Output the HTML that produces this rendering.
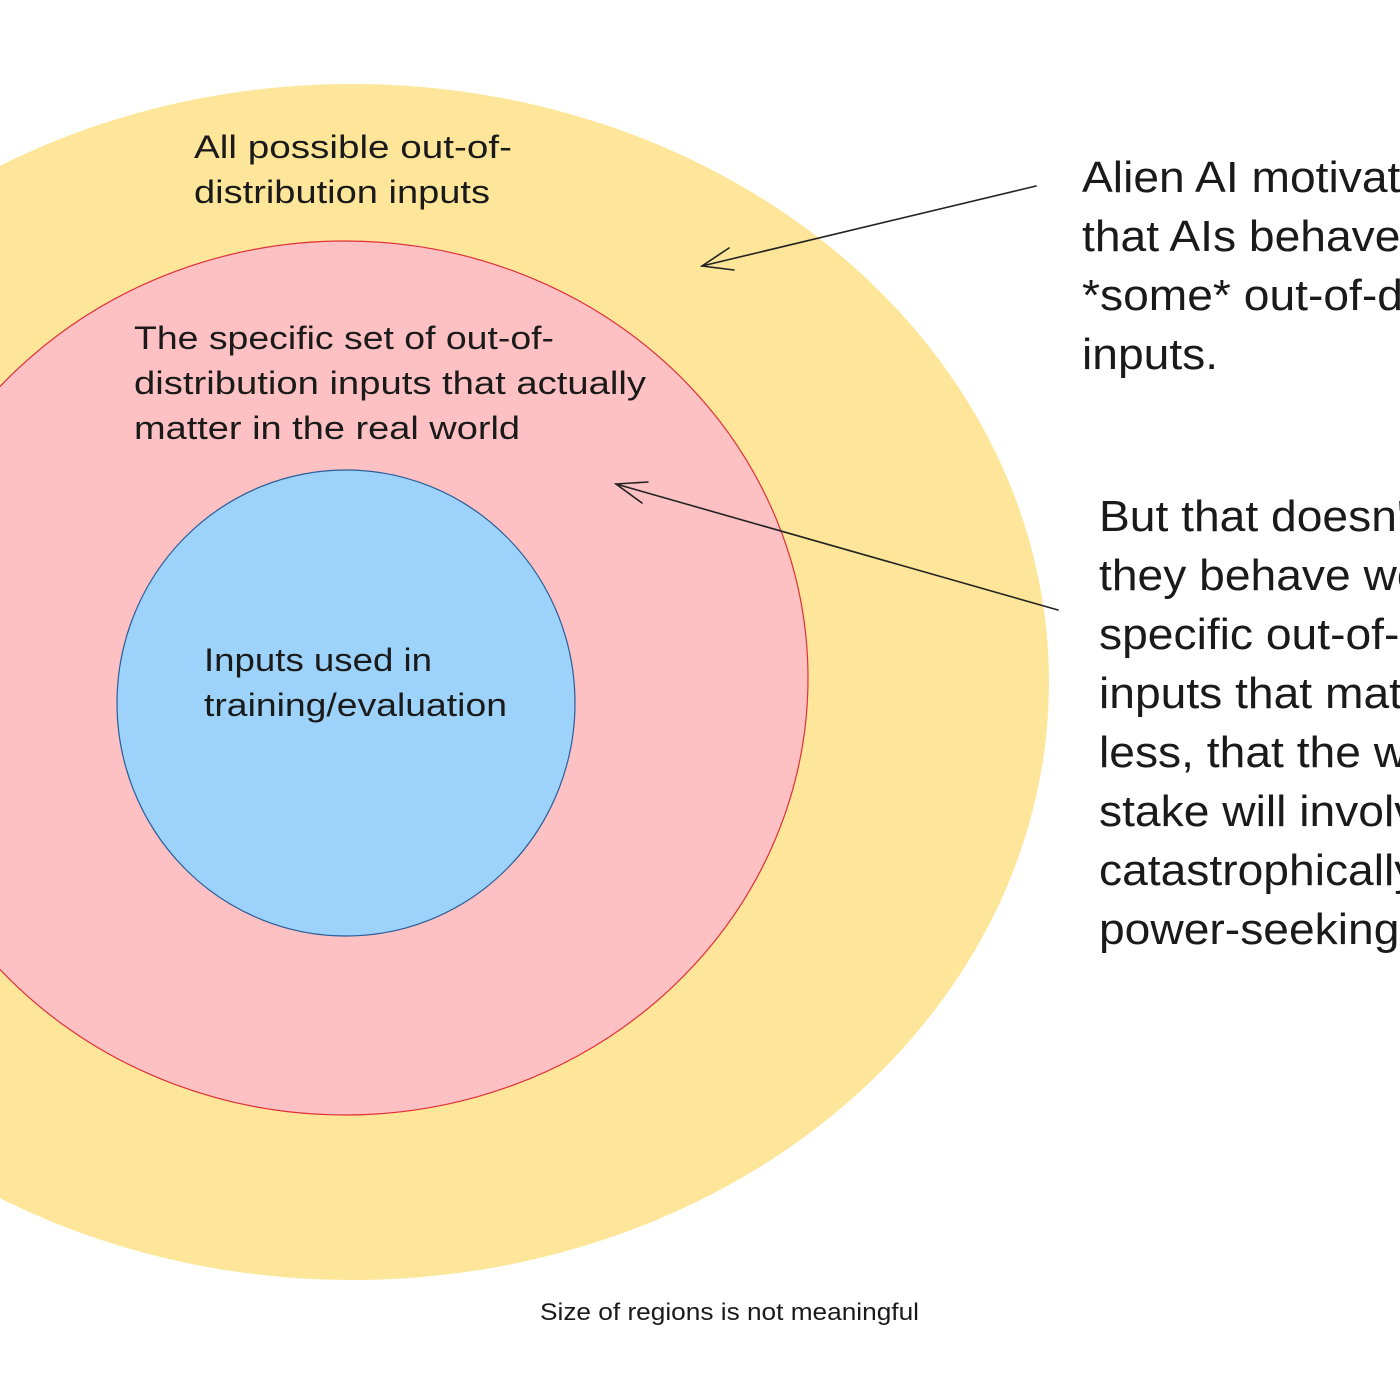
<!DOCTYPE html>
<html><head><meta charset="utf-8"><style>
html,body{margin:0;padding:0;background:#fff;width:1400px;height:1400px;overflow:hidden}
svg{display:block}
text{font-family:"Liberation Sans",sans-serif;fill:#1a1a1a}
</style></head><body>
<svg width="1400" height="1400" viewBox="0 0 1400 1400">
<ellipse cx="352" cy="682" rx="697" ry="598" fill="#fde699"/>
<ellipse cx="345" cy="678" rx="463" ry="437" fill="#fdc1c3" stroke="#e0303a" stroke-width="1.2"/>
<ellipse cx="346" cy="703" rx="229" ry="233" fill="#9dd3fb" stroke="#2a5d9a" stroke-width="1.2"/>
<g stroke="#222" stroke-width="1.6" fill="none" stroke-linecap="round">
<line x1="1036" y1="186" x2="702" y2="266"/>
<polyline points="729,248 702,266 734,270"/>
<line x1="1058" y1="610" x2="616" y2="484"/>
<polyline points="648,482 616,484 642,503"/>
</g>
<g font-size="32" lengthAdjust="spacingAndGlyphs">
<text x="194" y="158" textLength="318" lengthAdjust="spacingAndGlyphs">All possible out-of-</text>
<text x="194" y="203" textLength="296" lengthAdjust="spacingAndGlyphs">distribution inputs</text>
<text x="134" y="349" textLength="420" lengthAdjust="spacingAndGlyphs">The specific set of out-of-</text>
<text x="134" y="394" textLength="512" lengthAdjust="spacingAndGlyphs">distribution inputs that actually</text>
<text x="134" y="439" textLength="386" lengthAdjust="spacingAndGlyphs">matter in the real world</text>
<text x="204" y="671" textLength="228" lengthAdjust="spacingAndGlyphs">Inputs used in</text>
<text x="204" y="716" textLength="303" lengthAdjust="spacingAndGlyphs">training/evaluation</text>
</g>
<g font-size="44" transform="translate(1082,0) scale(1.05,1) translate(-1082,0)">
<text x="1082" y="192">Alien AI motivations imply</text>
<text x="1082" y="251">that AIs behave badly on</text>
<text x="1082" y="310">*some* out-of-distribution</text>
<text x="1082" y="369">inputs.</text>
</g>
<g font-size="44" transform="translate(1099,0) scale(1.05,1) translate(-1099,0)">
<text x="1099" y="531">But that doesn't mean</text>
<text x="1099" y="590">they behave worse on the</text>
<text x="1099" y="649">specific out-of-distribution</text>
<text x="1099" y="708">inputs that matter, much</text>
<text x="1099" y="767">less, that the worse behavior at</text>
<text x="1099" y="826">stake will involve</text>
<text x="1099" y="885">catastrophically harmful</text>
<text x="1099" y="944">power-seeking.</text>
</g>
<text x="540" y="1320" font-size="24" textLength="379" lengthAdjust="spacingAndGlyphs">Size of regions is not meaningful</text>
</svg>
</body></html>
